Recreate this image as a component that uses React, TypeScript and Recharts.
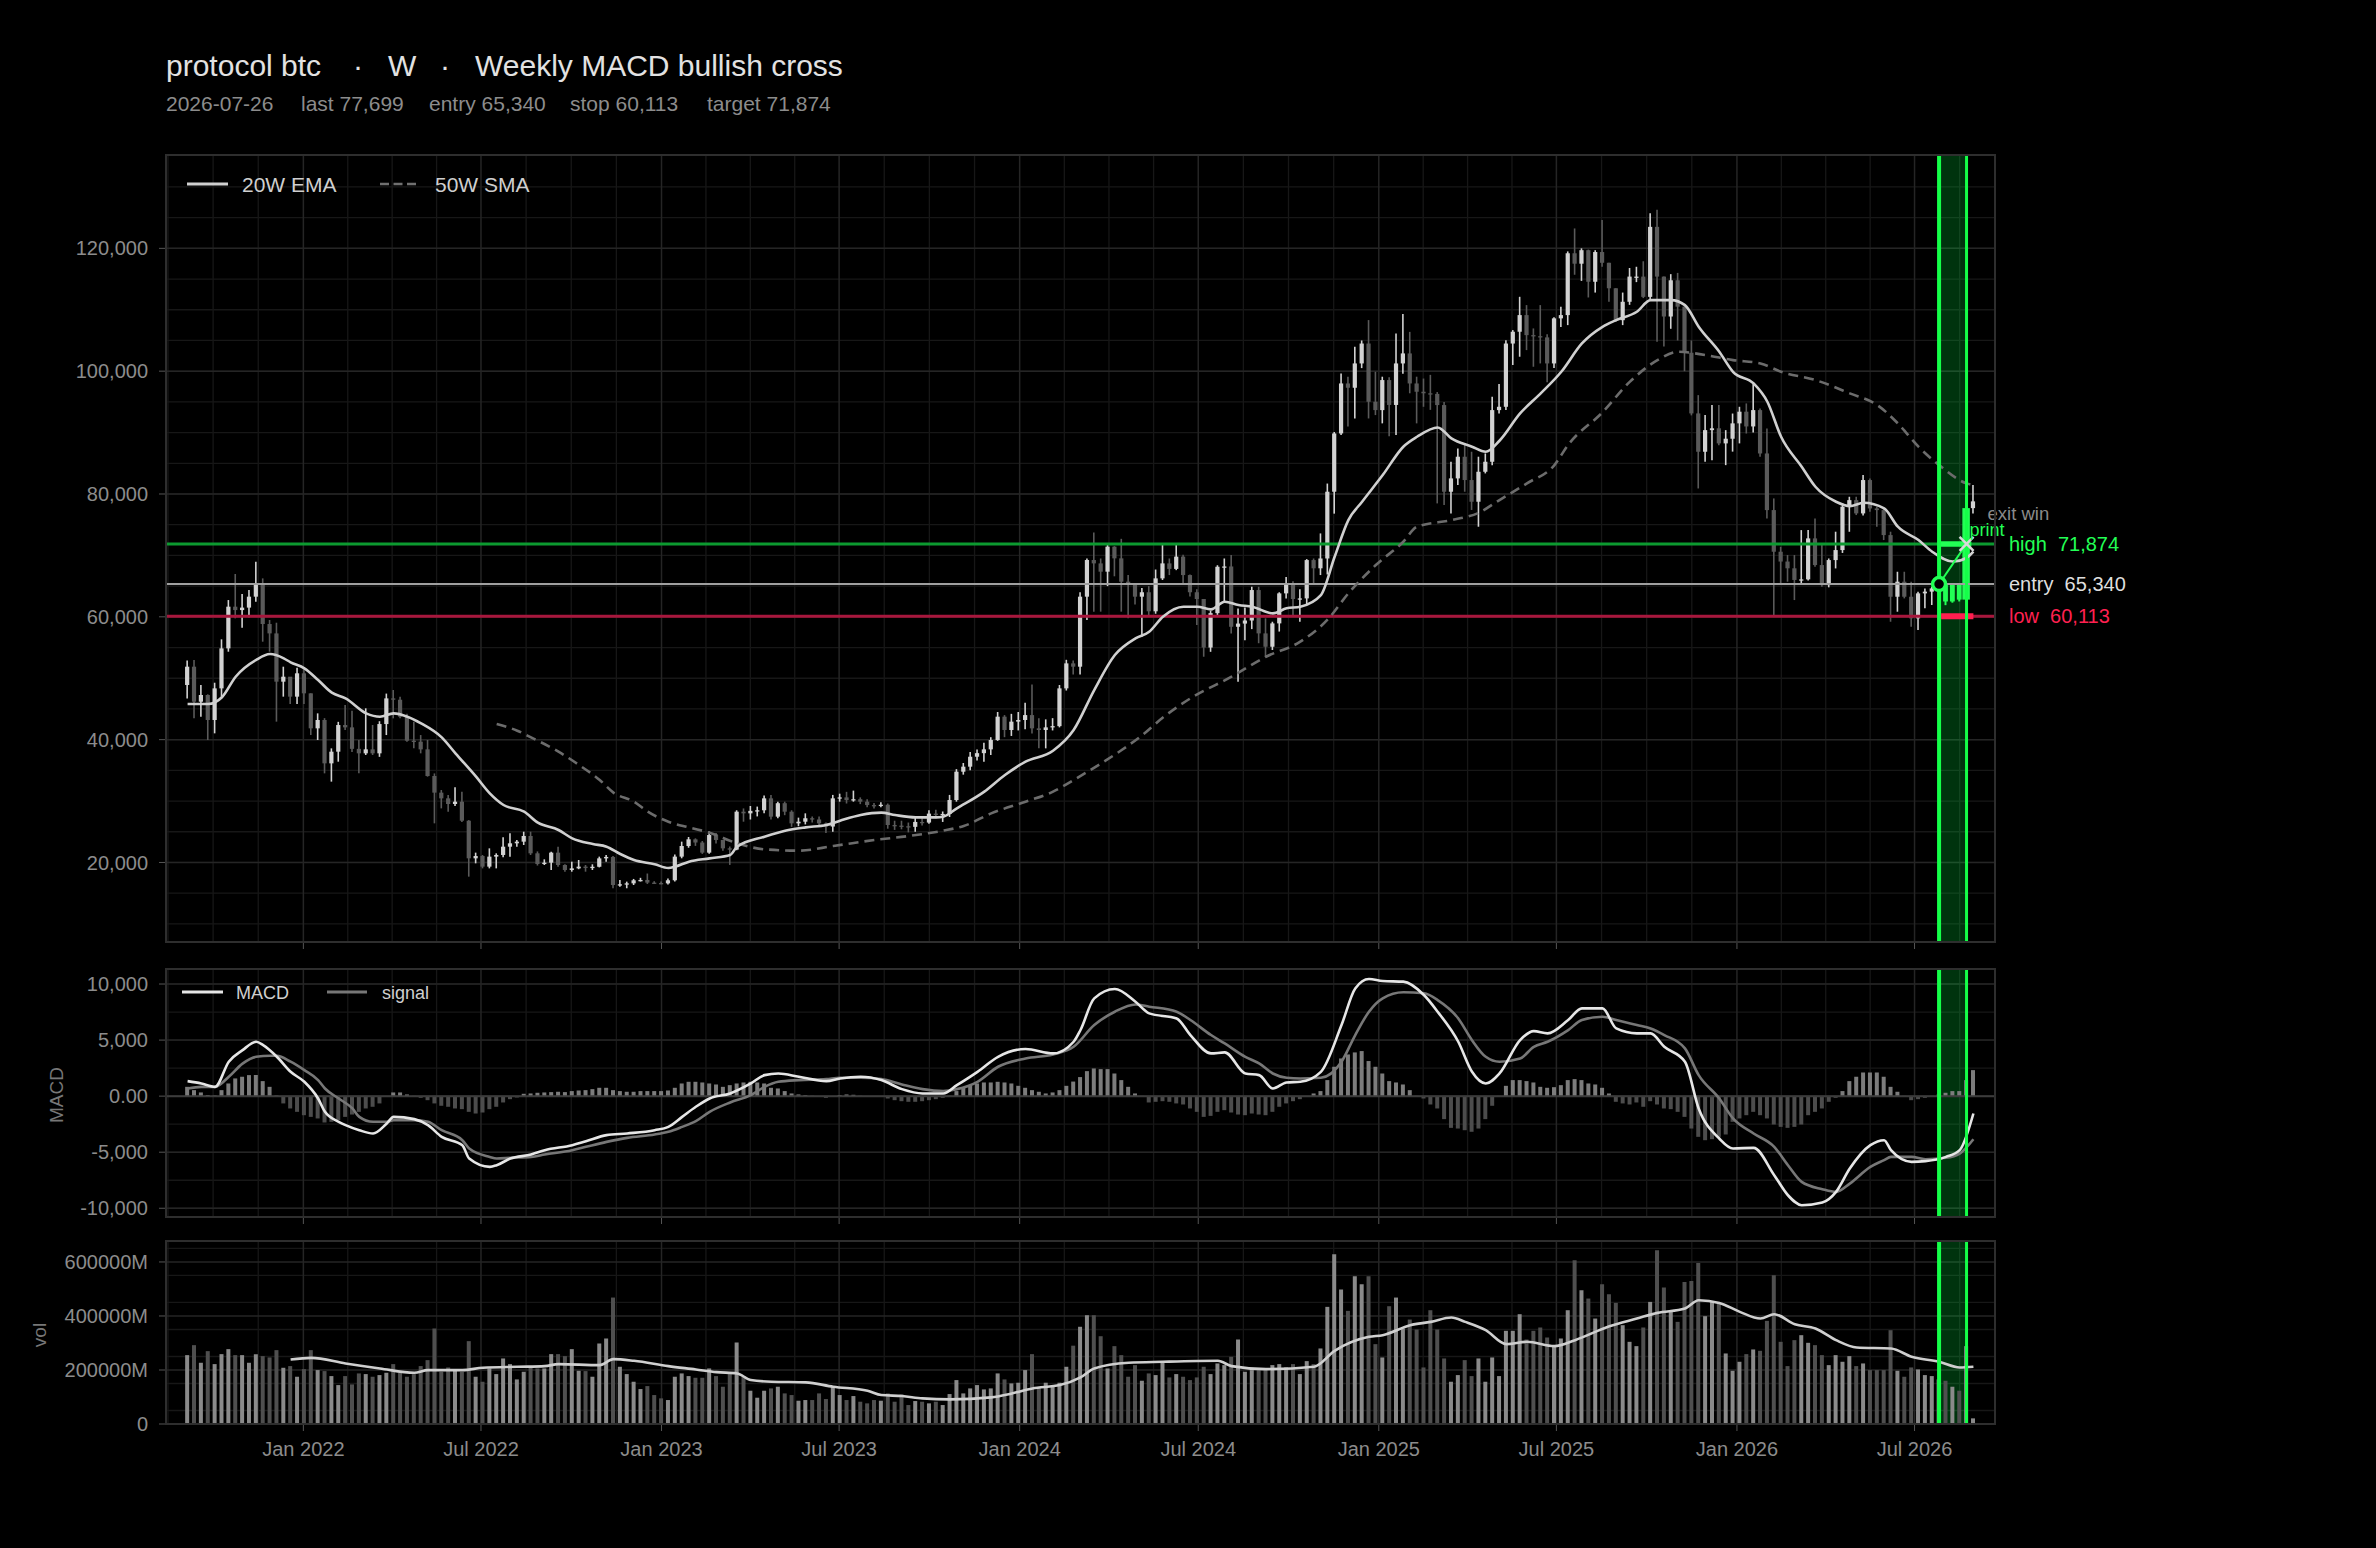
import React from "react";
import {
  ComposedChart,
  Bar,
  Line,
  XAxis,
  YAxis,
  CartesianGrid,
  ReferenceLine,
  ReferenceArea,
  ReferenceDot,
  Cell,
} from "recharts";

// weekly candles, week ending on Sundays from 2021-09-05
const firstOpen = 48900;
const closes = [
  51880, 46180, 47270, 43200, 48350, 54860, 61650, 61100, 61500, 63280,
  65450, 58830, 57300, 49440, 50250, 47000, 50800, 47540, 41840, 43200,
  36140, 38040, 42380, 42000, 38500, 37770, 38420, 37770, 42540, 46720,
  46500, 43740, 39830, 39670, 38420, 34080, 31370, 30440, 29520, 29900,
  26800, 20675, 21050, 19320, 20950, 21220, 22570, 23120, 23390, 24310,
  21490, 19750, 19970, 21600, 19590, 18770, 19040, 19320, 19150, 19300,
  20670, 20900, 16330, 16450, 16600, 17100, 17150, 16720, 16650, 16600,
  17100, 20950, 22680, 23770, 23250, 21600, 24470, 23660, 22300, 22100,
  28270, 28000, 28400, 28500, 30440, 27460, 29650, 28270, 26370, 26640,
  27200, 27000, 26370, 25850, 30440, 30600, 30170, 30300, 29900, 29350,
  29200, 29400, 26100, 26000, 25900, 25800, 26600, 26500, 27950, 27800,
  27900, 30170, 34780, 35600, 37220, 37800, 38420, 39940, 43740, 41570,
  42930, 43200, 44000, 41840, 41570, 42000, 42200, 48350, 52420, 51880,
  63280, 69250, 68700, 67350, 71420, 69520, 65720, 65180, 63280, 64000,
  60900, 66260, 68700, 67800, 69800, 66800, 64000, 62900, 55000, 60600,
  68150, 68200, 58380, 58900, 59400, 64360, 57300, 55130, 58930, 63820,
  65450, 62900, 63000, 69240, 67900, 69500, 80370, 89860, 98000, 97300,
  101260, 104500, 95020, 93660, 98550, 94500, 101260, 102890, 98000, 96650,
  96400, 96300, 94480, 80370, 82540, 86070, 82270, 78740, 83620, 85250,
  93660, 94200, 104500, 106420, 109130, 105870, 105700, 105500, 101260, 108600,
  109130, 119200, 117500, 119700, 114560, 119400, 117650, 113500, 108300, 111300,
  115400, 115400, 112100, 123500, 115400, 108900, 114800, 110500, 103000, 93120,
  86880, 90400, 90700, 88240, 89000, 91500, 93400, 91000, 93660, 86600,
  77380, 70600, 69000, 67900, 66000, 66100, 72770, 68430, 65170, 69240,
  70870, 77930, 79000, 76840, 82270, 77650, 77380, 73310, 63270, 65720,
  63270, 59750, 63820, 64100, 64630, 65340, 62500, 65200, 62800, 77700,
  78800,
];
const highs = [
  52900, 52965, 48900, 47380, 49270, 56330, 62730, 66970, 63710, 64360,
  68975, 66260, 59480, 59040, 51880, 50140, 51720, 51450, 47540, 44280,
  43500, 38580, 42900, 45640, 44720, 39940, 45100, 42380, 43000, 47500,
  48080, 47000, 44200, 42930, 40750, 39940, 34500, 31800, 31000, 32230,
  31530, 26900, 21600, 21220, 22300, 21490, 24100, 24745, 23660, 25010,
  25010, 21800, 20510, 21760, 22570, 19700, 20130, 20400, 19590, 19700,
  20950, 21220, 21050, 17150, 16880, 17320, 17500, 18200, 16950, 16900,
  17400, 21300, 23390, 24150, 23930, 23500, 25050, 24800, 23660, 22600,
  28500, 28800, 29200, 29100, 30900, 31000, 29900, 29900, 28500, 27300,
  28000, 27500, 27500, 26500, 31000, 31200, 31500, 31700, 30600, 30300,
  29700, 29800, 29600, 26800, 26800, 26500, 27300, 27200, 28500, 28600,
  28300, 31000, 35200, 36200, 38000, 38400, 39500, 40400, 44500, 44000,
  44200, 44500, 46000, 48960, 43500, 43300, 43500, 48900, 53000, 52900,
  64000, 69500, 73750, 69500, 72000, 71500, 72700, 66800, 65500, 64700,
  65000, 67700, 71950, 69500, 71900, 70100, 66900, 64500, 62900, 61000,
  68400, 69500, 70060, 61350, 61500, 64900, 64900, 59750, 59200, 64000,
  66500, 65800, 64500, 69400, 69500, 73580, 81700, 90100, 99630, 99100,
  103980, 105000, 108320, 99900, 99100, 99000, 106150, 109300, 106400, 99100,
  98800, 99400, 96600, 95000, 85250, 87400, 88240, 86880, 86070, 86600,
  95830, 97900, 105050, 106690, 112110, 110760, 106960, 110760, 106000, 108800,
  110500, 119500, 123240, 120000, 119800, 119700, 124600, 117650, 113500, 112800,
  116800, 117000, 117900, 125700, 126300, 115400, 115800, 116000, 110800, 105000,
  96100, 92850, 94480, 94480, 90400, 93100, 94200, 94750, 98000, 93940,
  90680, 79280, 71410, 70060, 70060, 74120, 74120, 76030, 71960, 69500,
  73860, 78500, 79550, 79550, 83080, 82540, 77930, 77650, 73860, 67340,
  67340, 65720, 64090, 64630, 64900, 66000, 65500, 65400, 65340, 79550,
  81450,
];
const lows = [
  46720, 43470, 43740, 39940, 41025, 47000, 54320, 59750, 58230, 59910,
  62460, 55950, 54320, 42930, 47000, 45800, 45800, 45800, 40750, 39940,
  34510, 33160, 36410, 41570, 38000, 34510, 37500, 37500, 37200, 40750,
  43470, 43470, 39670, 38580, 37770, 33970, 26370, 28810, 28270, 29200,
  26600, 17690, 19860, 19040, 19040, 19040, 20840, 20950, 22570, 22840,
  21220, 19500, 19590, 18770, 19300, 18500, 18500, 18900, 18500, 18770,
  19200, 20130, 15790, 16060, 15800, 16330, 16900, 16500, 16500, 16450,
  16400, 16900, 20680, 22400, 22700, 21400, 21400, 23100, 21900, 19600,
  22000, 26640, 27000, 27500, 28000, 27000, 27200, 27700, 25800, 25900,
  26200, 26500, 25900, 24800, 25000, 29900, 29600, 29900, 29500, 29000,
  28800, 29000, 25500, 25300, 25400, 24900, 25000, 26000, 26300, 27200,
  26600, 27400, 29900, 34300, 35000, 36600, 36400, 37500, 39800, 40400,
  40600, 41500, 41700, 41000, 38580, 38580, 41500, 42000, 48000, 50600,
  50600, 59480, 60840, 60840, 65000, 66600, 60840, 59750, 62000, 56760,
  60200, 60500, 66000, 66800, 67600, 65500, 63300, 58660, 53500, 54300,
  60300, 62460, 57300, 49430, 56200, 58000, 55700, 53500, 54600, 57600,
  63000, 60000, 59200, 62000, 65400, 66800, 66900, 76800, 89600, 91000,
  92300, 100500, 92300, 92850, 91500, 89400, 89600, 99600, 96400, 91500,
  94200, 93700, 78470, 78200, 76840, 81450, 80370, 77400, 74670, 83350,
  84700, 93100, 93660, 101000, 102350, 103430, 100720, 101260, 98200, 100500,
  107200, 107500, 115700, 114700, 112000, 112800, 117000, 111300, 108000, 107500,
  110800, 114500, 111900, 111700, 104800, 104000, 106900, 105000, 100000, 92800,
  80900, 85250, 85500, 87950, 84700, 86900, 88240, 89850, 90000, 86060,
  76000, 60280, 65440, 65720, 62730, 65440, 65900, 68160, 64900, 64800,
  67880, 70400, 73850, 76570, 76500, 77110, 74670, 72500, 59200, 60830,
  63000, 58380, 57850, 61380, 61920, 63500, 61900, 62300, 62500, 62700,
  76840,
];
// weekly volume, millions
const volumes = [
  255000, 292000, 226700, 269800, 221800, 258700, 277200, 255000, 255000, 226700,
  258700, 251300, 246400, 273500, 208200, 214400, 175000, 203300, 273500, 199600,
  195900, 177400, 144100, 177400, 146600, 187300, 184800, 175000, 181100, 189700,
  221800, 189700, 175000, 184800, 214400, 236500, 353600, 193400, 209400, 202000,
  193400, 306800, 175000, 156500, 205700, 184800, 242700, 221800, 165100, 193400,
  209400, 205700, 205700, 258700, 258700, 251300, 277200, 197100, 195900, 175000,
  298100, 316600, 468200, 211900, 184800, 156500, 129400, 140400, 107200, 94900,
  88700, 175000, 187300, 177400, 171200, 171200, 205700, 177400, 138000, 184800,
  301800, 177400, 123200, 97300, 123200, 131800, 138000, 113300, 107200, 86200,
  88700, 88700, 113300, 92400, 138000, 107200, 88700, 103500, 82500, 76400,
  88700, 86200, 113300, 82500, 109600, 70200, 85000, 82500, 76400, 82500,
  70200, 110900, 162600, 113300, 131800, 144100, 128100, 131800, 187300, 165100,
  150300, 152800, 199600, 258700, 138000, 152800, 138000, 152800, 211900, 290000,
  360000, 402800, 402800, 325000, 205700, 288300, 255000, 175000, 218000, 160200,
  187300, 181100, 226700, 172500, 184800, 175000, 162600, 172500, 211900, 184800,
  224200, 218000, 248900, 312900, 193400, 199600, 205700, 205700, 218000, 221800,
  209400, 221800, 184800, 232800, 221800, 279700, 433700, 628300, 497700, 418900,
  547000, 517400, 547000, 295700, 246400, 436100, 468200, 353600, 386800, 349900,
  209400, 421300, 349900, 242700, 156500, 181100, 236500, 177400, 242700, 156500,
  246400, 177400, 345000, 345000, 406600, 312900, 345000, 357300, 320300, 292000,
  316600, 421300, 606100, 495300, 464500, 390500, 517400, 480500, 448400, 365900,
  304300, 288300, 357300, 452100, 643100, 505100, 415200, 378200, 526100, 529800,
  596300, 399200, 452100, 448400, 261200, 197100, 230400, 258700, 276000, 271000,
  381900, 550700, 304300, 214400, 310500, 328900, 300600, 292000, 255000, 218000,
  255000, 230400, 251300, 214400, 224200, 199600, 199600, 199600, 347400, 197100,
  175000, 209400, 202000, 181100, 177400, 165100, 160200, 138000, 123200, 288300,
  20900,
];
const hist = [
  830, 535, 330, 100, 60, 535, 1130, 1580, 1730, 1875,
  1875, 1340, 830, 50, -650, -1100, -1400, -1700, -1850, -1990,
  -2350, -2290, -2140, -1850, -1640, -1400, -1100, -950, -650, -60,
  330, 330, 150, 20, -150, -360, -650, -860, -950, -1100,
  -1160, -1400, -1550, -1460, -1160, -950, -565, -270, -120, 210,
  240, 300, 330, 360, 390, 360, 450, 505, 535, 625,
  745, 745, 535, 450, 390, 390, 450, 450, 450, 450,
  505, 745, 1130, 1280, 1280, 1220, 1130, 1040, 830, 980,
  1130, 1220, 1280, 1220, 1130, 745, 685, 450, 240, 150,
  90, 30, -60, -150, -60, 90, 150, 120, 30, 10,
  10, -30, -210, -360, -450, -505, -505, -450, -360, -270,
  -150, 30, 450, 745, 920, 1130, 1220, 1220, 1280, 1220,
  1130, 920, 745, 535, 390, 240, 330, 535, 920, 1300,
  1700, 2230, 2470, 2410, 2410, 2020, 1430, 830, 240, 20,
  -565, -505, -450, -505, -650, -745, -1100, -1400, -1850, -1760,
  -1400, -1250, -1460, -1640, -1700, -1550, -1640, -1700, -1400, -950,
  -650, -450, -270, -60, 240, 450, 1430, 2620, 3360, 3720,
  3900, 4020, 3130, 2620, 2020, 1340, 1220, 1040, 535, 20,
  -210, -745, -1100, -2050, -2830, -2890, -3040, -3180, -2890, -2050,
  -860, 20, 920, 1430, 1430, 1340, 1220, 830, 745, 800,
  980, 1430, 1520, 1430, 1130, 1040, 745, 240, -505, -650,
  -745, -565, -950, -450, -745, -1100, -1160, -1400, -1850, -2890,
  -3630, -3930, -3840, -3630, -3420, -2290, -1990, -1700, -1400, -1700,
  -1990, -2530, -2740, -2830, -2740, -2530, -1700, -1400, -1100, -505,
  -150, 450, 1340, 1730, 2110, 2110, 2110, 1730, 830, 390,
  20, -360, -270, -150, 20, 150, 300, 450, 450, 1430,
  2320,
];

// indicator lines read at [week index, value]
const emaPts = [
  [0, 45800], [3, 45800], [5, 46900], [7, 50250], [10, 53000], [12, 53940], [14, 53240],
  [15, 52590], [17, 51610], [19, 49710], [21, 47650], [23, 46720], [26, 44280], [28, 43740],
  [30, 44280], [32, 43740], [34, 42650], [37, 40370], [39, 37770], [42, 33970], [44, 31260],
  [46, 29360], [49, 28270], [51, 26480], [54, 25290], [56, 23930], [59, 23010], [61, 22570],
  [63, 21380], [65, 20400], [68, 19700], [70, 19100], [71, 19320], [73, 20130], [76, 20670],
  [79, 21220], [80, 22570], [84, 24200], [87, 25180], [90, 25720], [93, 26100], [95, 26800],
  [98, 27730], [101, 28110], [103, 27730], [106, 27350], [109, 27350], [110, 27460],
  [112, 28810], [116, 31530], [119, 34240], [122, 36410], [126, 38200], [129, 41570],
  [132, 48080], [135, 53780], [138, 56490], [140, 57570], [142, 60020], [145, 61650],
  [147, 61650], [149, 61210], [151, 62460], [153, 61920], [155, 61650], [158, 60560],
  [160, 61380], [162, 61650], [165, 63540], [167, 69780], [169, 75750], [171, 78740],
  [174, 83080], [177, 87700], [179, 89320], [182, 90840], [184, 89050], [187, 87700],
  [189, 86880], [191, 88670], [194, 93120], [197, 96380], [200, 99900], [203, 104520],
  [206, 107230], [208, 108320], [211, 109670], [213, 111570], [216, 111570], [218, 110760],
  [220, 107230], [223, 103160], [225, 99900], [228, 98000], [230, 95020], [232, 89320],
  [235, 84440], [237, 81180], [240, 78740], [242, 78030], [244, 78580], [247, 77650],
  [249, 74670], [252, 72500], [254, 70600], [257, 69000], [259, 69600], [260, 70600],
];
const smaPts = [
  [45, 42540], [48, 41460], [50, 40370], [54, 38040], [57, 35870], [60, 33430], [62, 31370],
  [65, 29900], [67, 28270], [70, 26640], [73, 25700], [76, 24850], [80, 23120], [84, 22140],
  [89, 21920], [94, 22680], [100, 23660], [105, 24310], [110, 25180], [113, 25940],
  [117, 27990], [122, 29900], [126, 31530], [129, 33430], [133, 36140], [136, 38310],
  [139, 40750], [142, 43600], [146, 46720], [152, 50250], [157, 53500], [162, 55950],
  [166, 59580], [169, 63820], [173, 68430], [177, 72230], [179, 74670], [184, 75750],
  [188, 76950], [191, 79010], [195, 81730], [199, 84710], [201, 88000], [206, 93300],
  [210, 98300], [214, 101800], [217, 103160], [221, 102620], [225, 101800], [229, 101260],
  [232, 99900], [237, 98550], [242, 96380], [246, 94480], [249, 91500], [252, 87700],
  [255, 84710], [259, 81730], [260, 81450],
];
const macdPts = [
  [0, 1340], [2, 1130], [4, 830], [6, 3070], [8, 4100], [10, 4850], [11, 4550], [13, 3510],
  [15, 2170], [17, 1280], [19, -210], [20, -1400], [22, -2290], [23, -2590], [25, -3040],
  [27, -3330], [29, -2440], [30, -1850], [33, -2050], [35, -2590], [37, -3630], [40, -4375],
  [41, -5565], [44, -6310], [45, -6160], [47, -5565], [50, -5210], [52, -4820], [56, -4375],
  [58, -4020], [61, -3480], [64, -3330], [68, -3040], [70, -2740], [72, -1850], [74, -950],
  [76, -210], [79, 240], [82, 1130], [84, 1875], [86, 2020], [89, 1730], [93, 1340],
  [95, 1580], [98, 1730], [101, 1430], [104, 625], [107, 240], [110, 240], [112, 980],
  [115, 2170], [118, 3510], [122, 4200], [126, 3810], [129, 4850], [130, 5900], [132, 8720],
  [135, 9550], [138, 8420], [140, 7380], [144, 6930], [146, 5450], [149, 3810], [151, 3900],
  [154, 2020], [156, 1875], [158, 685], [160, 1220], [162, 1280], [165, 2170], [168, 6340],
  [170, 9610], [172, 10450], [174, 10270], [177, 10210], [180, 9020], [182, 7530],
  [185, 4850], [187, 2170], [189, 1130], [191, 2020], [194, 5000], [196, 5800], [198, 5600],
  [201, 6790], [203, 7830], [206, 7830], [208, 6040], [211, 5600], [213, 5600], [215, 4400],
  [218, 3070], [220, -1100], [223, -3780], [225, -4670], [228, -4610], [231, -7050],
  [233, -8840], [235, -9730], [238, -9490], [240, -8540], [242, -6460], [245, -4375],
  [247, -3930], [248, -4820], [251, -5860], [253, -5800], [256, -5420], [258, -4820],
  [260, -1550],
];
const signalPts = [
  [0, 680], [2, 830], [4, 830], [6, 1730], [8, 2900], [10, 3510], [12, 3600], [13, 3600],
  [15, 3070], [17, 2320], [19, 1430], [20, 680], [22, -210], [24, -1100], [25, -1850],
  [27, -2290], [29, -2290], [30, -2140], [33, -2140], [35, -2290], [37, -3040], [40, -3930],
  [41, -4670], [44, -5420], [45, -5565], [47, -5500], [50, -5420], [52, -5210], [56, -4820],
  [58, -4520], [61, -4080], [64, -3720], [68, -3420], [70, -3180], [72, -2740], [74, -2230],
  [76, -1400], [79, -565], [82, 90], [84, 830], [86, 1280], [89, 1430], [93, 1520],
  [95, 1640], [98, 1640], [101, 1520], [104, 1040], [107, 625], [110, 450], [112, 625],
  [115, 1280], [118, 2620], [122, 3360], [126, 3720], [129, 4400], [132, 6340], [135, 7530],
  [138, 8180], [140, 7980], [144, 7530], [146, 6790], [149, 5450], [151, 4700], [154, 3510],
  [156, 2920], [158, 2020], [160, 1640], [162, 1580], [165, 1640], [168, 3070], [170, 5450],
  [172, 7530], [174, 8720], [177, 9260], [180, 9170], [182, 8570], [185, 6930], [187, 4990],
  [189, 3510], [191, 3070], [194, 3360], [196, 4400], [198, 4850], [201, 5890], [203, 6790],
  [206, 7080], [208, 6790], [211, 6340], [213, 6040], [215, 5450], [218, 4260], [220, 1875],
  [223, -210], [225, -1990], [228, -3330], [231, -4520], [233, -6160], [235, -7650],
  [238, -8300], [240, -8540], [242, -7800], [245, -6310], [247, -5710], [248, -5420],
  [251, -5420], [253, -5625], [256, -5500], [258, -5120], [260, -3840],
];
const volMaPts = [
  [15, 239000], [18, 245000], [23, 224000], [28, 205700], [33, 189700], [35, 199600],
  [40, 199600], [43, 208200], [48, 211900], [52, 214400], [54, 221800], [60, 218000],
  [62, 240200], [65, 234000], [70, 214400], [74, 202000], [77, 192200], [80, 187300],
  [82, 162600], [85, 156500], [90, 154000], [94, 138000], [99, 123200], [101, 107200],
  [104, 103500], [107, 94900], [111, 91200], [117, 98600], [120, 113300], [123, 131800],
  [127, 144100], [130, 172500], [132, 205700], [137, 226700], [142, 230400], [150, 234000],
  [152, 214400], [157, 203300], [164, 211900], [167, 271000], [172, 322800], [174, 328900],
  [178, 365900], [181, 378200], [184, 394200], [186, 378200], [189, 347400], [192, 295700],
  [195, 304300], [199, 288300], [202, 310500], [207, 362200], [211, 390500], [214, 411500],
  [218, 427500], [220, 458300], [223, 448400], [226, 415200], [229, 390500], [231, 406600],
  [234, 369600], [237, 353600], [240, 310500], [243, 283400], [248, 279700], [251, 248900],
  [255, 230400], [258, 209400], [260, 211900],
];

const ENTRY_PRICE = 65340;
const TARGET_PRICE = 71874;
const STOP_PRICE = 60113;

const priceTicks = [20000, 40000, 60000, 80000, 100000, 120000];
const macdTicks = [-10000, -5000, 0, 5000, 10000];
const volTicks = [0, 200000, 400000, 600000];
const xTickDates = ["2022-01", "2022-07", "2023-01", "2023-07", "2024-01", "2024-07", "2025-01", "2025-07", "2026-01", "2026-07"];

const WEEK = 7 * 864e5;
const START = Date.UTC(2021, 8, 5);
const ENTRY = Date.UTC(2026, 6, 26);
const EXIT = Date.UTC(2026, 7, 23);
const X_DOMAIN = [Date.UTC(2021, 7, 14), Date.UTC(2026, 8, 21)];
const MONTHS = ["Jan", "Feb", "Mar", "Apr", "May", "Jun", "Jul", "Aug", "Sep", "Oct", "Nov", "Dec"];

const toT = (s: string) => {
  const [y, m] = s.split("-").map(Number);
  return Date.UTC(y, m - 1, 1);
};
const xTicks = xTickDates.map(toT);
const fmtX = (t: number) => {
  const d = new Date(t);
  return `${MONTHS[d.getUTCMonth()]} ${d.getUTCFullYear()}`;
};

// grid: quarter steps between the half-year ticks, kept inside the x domain
const halfYears = ["2021-07", ...xTickDates, "2027-01"].map(toT);
const gridXMinor: number[] = [];
for (let k = 0; k < halfYears.length - 1; k++) {
  const s = halfYears[k], e = halfYears[k + 1];
  for (let q = 1; q < 4; q++) {
    const v = s + (q * (e - s)) / 4;
    if (v > X_DOMAIN[0] && v < X_DOMAIN[1]) gridXMinor.push(v);
  }
}
const steps = (a: number, b: number, st: number) => {
  const out: number[] = [];
  for (let v = a; v <= b; v += st) out.push(v);
  return out;
};

const ptsMap = (pts: number[][]) => new Map(pts.map(([i, v]) => [i, v]));
const emaM = ptsMap(emaPts), smaM = ptsMap(smaPts), macdM = ptsMap(macdPts);
const sigM = ptsMap(signalPts), vmaM = ptsMap(volMaPts);

const rows = closes.map((c, i) => {
  const o = i === 0 ? firstOpen : closes[i - 1];
  const t = START + i * WEEK;
  return {
    t, o, c, h: highs[i], l: lows[i],
    range: [lows[i], highs[i]],
    up: c >= o,
    trade: t > ENTRY && t <= EXIT,
    last: t === EXIT,
    vol: volumes[i],
    hist: hist[i],
    ema: emaM.get(i) ?? null,
    sma: smaM.get(i) ?? null,
    macd: macdM.get(i) ?? null,
    signal: sigM.get(i) ?? null,
    vma: vmaM.get(i) ?? null,
  };
});

const GREEN = "#22ff55";
const UP = "#d2d2d2";
const DOWN = "#5a5a5a";
const TICK = { fill: "#8c8c8c", fontSize: 20 };
const FONT = "'Liberation Sans', Arial, Helvetica, sans-serif";
const W = 2376;
const MARGIN_R = 381;
const AXIS_W = 166;

function Candle(props: any) {
  const { x, y, width, height, payload } = props;
  if (x == null || !payload) return null;
  const top = Math.min(y, y + height);
  const h = Math.abs(height);
  const cx = x + width / 2;
  const span = payload.h - payload.l || 1;
  const py = (v: number) => top + ((payload.h - v) / span) * h;
  const yo = py(payload.o), yc = py(payload.c);
  const col = payload.trade ? GREEN : payload.up ? UP : DOWN;
  const bw = payload.last ? 7.5 : payload.trade ? 4.8 : 4.2;
  return (
    <g>
      <line x1={cx} x2={cx} y1={top} y2={top + h} stroke={col} strokeWidth={payload.trade ? 2 : 1.6} />
      <rect x={cx - bw / 2} y={Math.min(yo, yc)} width={bw} height={Math.max(1.3, Math.abs(yc - yo))} fill={col} />
    </g>
  );
}

function ExitMark(props: any) {
  const { cx, cy } = props;
  if (cx == null || cy == null) return null;
  const s = 7;
  return (
    <g>
      <line x1={cx - s} y1={cy - s} x2={cx + s} y2={cy + s} stroke="#d9d9d9" strokeWidth={2.5} />
      <line x1={cx - s} y1={cy + s} x2={cx + s} y2={cy - s} stroke="#d9d9d9" strokeWidth={2.5} />
      <text x={cx + 21} y={cy - 24} fill="#8a8a8a" fontSize={18.5}>exit win</text>
      <text x={cx + 3} y={cy - 8} fill={GREEN} fontSize={18}>print</text>
    </g>
  );
}

const xAxisCommon = {
  dataKey: "t",
  type: "number" as const,
  domain: X_DOMAIN,
  ticks: xTicks,
  allowDataOverflow: true,
  axisLine: false,
  tickSize: 7,
  tickLine: { stroke: "#555" },
};

function Grid({ minorY, majorY }: { minorY: number[]; majorY: number[] }) {
  return (
    <>
      <CartesianGrid stroke="#171717" strokeWidth={1.3} horizontalValues={minorY} verticalValues={gridXMinor} />
      <CartesianGrid stroke="#252525" strokeWidth={1.5} horizontalValues={majorY} verticalValues={xTicks} />
    </>
  );
}

function TradeBand() {
  return <ReferenceArea x1={ENTRY} x2={EXIT} fill="#00ff44" fillOpacity={0.2} stroke="none" />;
}

function TradeLines() {
  return (
    <>
      <ReferenceLine x={ENTRY} stroke="#14ff48" strokeWidth={4} />
      <ReferenceLine x={EXIT} stroke="#14ff48" strokeWidth={3} />
    </>
  );
}

function PriceChart() {
  return (
    <ComposedChart width={W} height={952} data={rows} margin={{ top: 155, right: MARGIN_R, bottom: 0, left: 0 }}>
      <Grid minorY={steps(10000, 130000, 5000)} majorY={priceTicks} />
      <XAxis {...xAxisCommon} height={10} tickFormatter={() => ""} />
      <YAxis
        type="number"
        domain={[7050, 135200]}
        allowDataOverflow
        ticks={priceTicks}
        width={AXIS_W}
        tickSize={7}
        tickMargin={11}
        axisLine={false}
        tickLine={{ stroke: "#555" }}
        tick={TICK}
        tickFormatter={(v: number) => v.toLocaleString("en-US")}
      />
      <TradeBand />
      <ReferenceLine y={TARGET_PRICE} stroke="#0c9a30" strokeWidth={3}
        label={{ value: "high\u00a0\u00a071,874", position: "right", fill: GREEN, fontSize: 20, offset: 14 }} />
      <ReferenceLine y={ENTRY_PRICE} stroke="#a0a0a0" strokeWidth={2}
        label={{ value: "entry\u00a0\u00a065,340", position: "right", fill: "#dedede", fontSize: 20, offset: 14 }} />
      <ReferenceLine y={STOP_PRICE} stroke="#a8173d" strokeWidth={3}
        label={{ value: "low\u00a0\u00a060,113", position: "right", fill: "#ff2050", fontSize: 20, offset: 14 }} />
      <Bar dataKey="range" barSize={6} shape={Candle} isAnimationActive={false} />
      <Line dataKey="sma" type="monotone" stroke="#6c6c6c" strokeWidth={2.6} strokeDasharray="10 6"
        dot={false} activeDot={false} connectNulls isAnimationActive={false} />
      <Line dataKey="ema" type="monotone" stroke="#d0d0d0" strokeWidth={2.6}
        dot={false} activeDot={false} connectNulls isAnimationActive={false} />
      <ReferenceLine segment={[{ x: ENTRY - 0.2 * WEEK, y: TARGET_PRICE }, { x: EXIT + 0.7 * WEEK, y: TARGET_PRICE }]} stroke={GREEN} strokeWidth={5.5} />
      <ReferenceLine segment={[{ x: ENTRY + 0.3 * WEEK, y: STOP_PRICE }, { x: EXIT + WEEK, y: STOP_PRICE }]} stroke="#ff1f4f" strokeWidth={6} />
      <TradeLines />
      <ReferenceLine segment={[{ x: ENTRY, y: ENTRY_PRICE }, { x: EXIT, y: TARGET_PRICE }]} stroke={GREEN} strokeWidth={2} />
      <ReferenceDot x={ENTRY} y={ENTRY_PRICE} r={6.5} fill="#000" stroke={GREEN} strokeWidth={3.5} />
      <ReferenceDot x={EXIT} y={TARGET_PRICE} r={6} shape={ExitMark} />
    </ComposedChart>
  );
}

function MacdChart() {
  return (
    <ComposedChart width={W} height={267} data={rows} margin={{ top: 9, right: MARGIN_R, bottom: 0, left: 0 }}>
      <Grid minorY={steps(-10000, 10000, 2500)} majorY={macdTicks} />
      <XAxis {...xAxisCommon} height={10} tickFormatter={() => ""} />
      <YAxis
        type="number"
        domain={[-10780, 11340]}
        allowDataOverflow
        ticks={macdTicks}
        width={AXIS_W}
        tickSize={7}
        tickMargin={11}
        axisLine={false}
        tickLine={{ stroke: "#555" }}
        tick={TICK}
        tickFormatter={(v: number) => (v === 0 ? "0.00" : v.toLocaleString("en-US"))}
      />
      <TradeBand />
      <ReferenceLine y={0} stroke="#3c3c3c" strokeWidth={2} />
      <Bar dataKey="hist" barSize={4} isAnimationActive={false}>
        {rows.map((r, i) => (
          <Cell key={i} fill={r.hist >= 0 ? "#7c7c7c" : "#4c4c4c"} />
        ))}
      </Bar>
      <Line dataKey="signal" type="monotone" stroke="#777" strokeWidth={2.6}
        dot={false} activeDot={false} connectNulls isAnimationActive={false} />
      <Line dataKey="macd" type="monotone" stroke="#e6e6e6" strokeWidth={2.6}
        dot={false} activeDot={false} connectNulls isAnimationActive={false} />
      <TradeLines />
    </ComposedChart>
  );
}

function VolumeChart() {
  return (
    <ComposedChart width={W} height={244} data={rows} margin={{ top: 11, right: MARGIN_R, bottom: 0, left: 0 }}>
      <Grid minorY={steps(0, 650000, 50000)} majorY={volTicks} />
      <XAxis {...xAxisCommon} height={50} tickMargin={11} tick={TICK} tickFormatter={fmtX} />
      <YAxis
        type="number"
        domain={[0, 677600]}
        allowDataOverflow
        ticks={volTicks}
        width={AXIS_W}
        tickSize={7}
        tickMargin={11}
        axisLine={false}
        tickLine={{ stroke: "#555" }}
        tick={TICK}
        tickFormatter={(v: number) => (v === 0 ? "0" : `${v}M`)}
      />
      <TradeBand />
      <Bar dataKey="vol" barSize={4} isAnimationActive={false}>
        {rows.map((r, i) => (
          <Cell key={i} fill={r.up ? "#8a8a8a" : "#4f4f4f"} />
        ))}
      </Bar>
      <Line dataKey="vma" type="monotone" stroke="#cfcfcf" strokeWidth={2.6}
        dot={false} activeDot={false} connectNulls isAnimationActive={false} />
      <TradeLines />
    </ComposedChart>
  );
}

function Overlay() {
  const pre = { whiteSpace: "pre" as const };
  return (
    <svg width={W} height={1548} style={{ position: "absolute", left: 0, top: 0, pointerEvents: "none" }}>
      <text y={76} fontSize={30} fill="#e2e2e2" style={pre}>
        <tspan x={166}>protocol btc</tspan>
        <tspan x={353}>·</tspan>
        <tspan x={388}>W</tspan>
        <tspan x={440}>·</tspan>
        <tspan x={475}>Weekly MACD bullish cross</tspan>
      </text>
      <text y={111} fontSize={21} fill="#8c8c8c" style={pre}>
        <tspan x={166}>2026-07-26</tspan>
        <tspan x={301}>last 77,699</tspan>
        <tspan x={429}>entry 65,340</tspan>
        <tspan x={570}>stop 60,113</tspan>
        <tspan x={707}>target 71,874</tspan>
      </text>

      <line x1={187} x2={228} y1={184} y2={184} stroke="#d0d0d0" strokeWidth={3} />
      <text x={242} y={191.5} fontSize={21} fill="#cfcfcf">20W EMA</text>
      <line x1={380} x2={416} y1={184} y2={184} stroke="#707070" strokeWidth={2.6} strokeDasharray="9 4.5" />
      <text x={435} y={191.5} fontSize={21} fill="#cfcfcf">50W SMA</text>

      <line x1={182} x2={223} y1={992} y2={992} stroke="#e6e6e6" strokeWidth={3} />
      <text x={236} y={998.5} fontSize={18} fill="#cfcfcf">MACD</text>
      <line x1={327} x2={367} y1={992} y2={992} stroke="#777" strokeWidth={3} />
      <text x={382} y={998.5} fontSize={18} fill="#cfcfcf">signal</text>

      <text x={56} y={1095} fontSize={19} fill="#777" textAnchor="middle" dominantBaseline="central"
        transform="rotate(-90 56 1095)">MACD</text>
      <text x={39} y={1335} fontSize={19} fill="#777" textAnchor="middle" dominantBaseline="central"
        transform="rotate(-90 39 1335)">vol</text>

      <rect x={166} y={155} width={1829} height={787} fill="none" stroke="#2e2e2e" strokeWidth={2} />
      <rect x={166} y={969} width={1829} height={248} fill="none" stroke="#2e2e2e" strokeWidth={2} />
      <rect x={166} y={1241} width={1829} height={183} fill="none" stroke="#2e2e2e" strokeWidth={2} />
    </svg>
  );
}

export default function App() {
  return (
    <div style={{ position: "relative", width: W, height: 1548, background: "#000", overflow: "hidden", fontFamily: FONT }}>
      <style>{"body{margin:0;background:#000}"}</style>
      <div style={{ position: "absolute", left: 0, top: 0 }}>
        <PriceChart />
      </div>
      <div style={{ position: "absolute", left: 0, top: 960 }}>
        <MacdChart />
      </div>
      <div style={{ position: "absolute", left: 0, top: 1230 }}>
        <VolumeChart />
      </div>
      <Overlay />
    </div>
  );
}
